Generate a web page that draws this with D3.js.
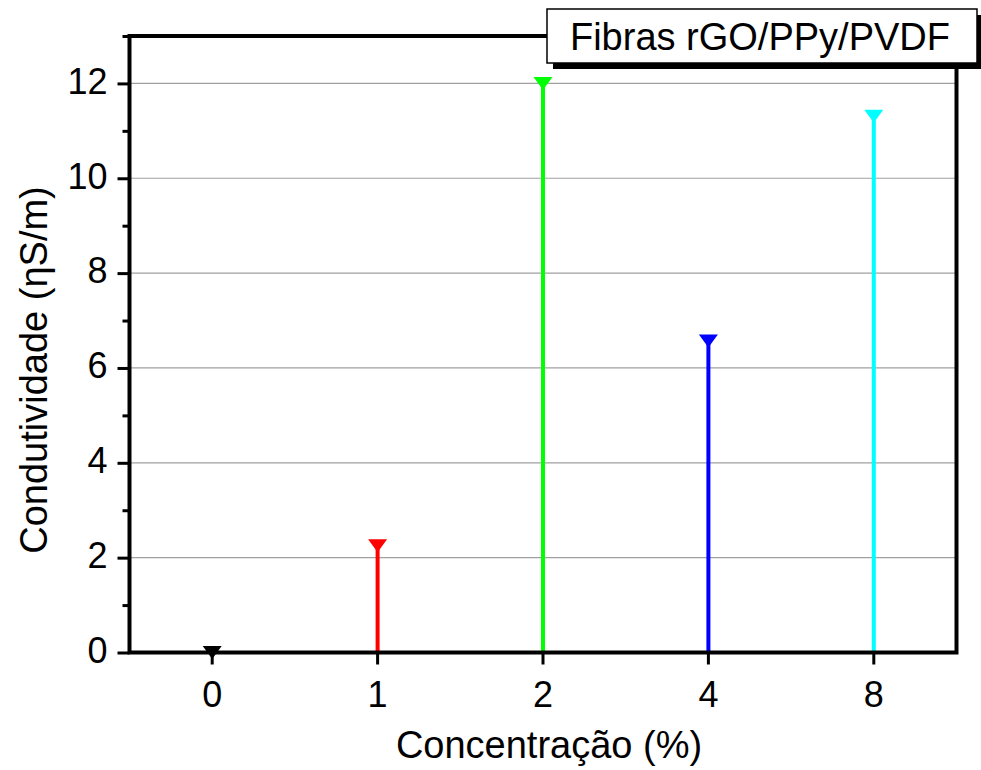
<!DOCTYPE html>
<html>
<head>
<meta charset="utf-8">
<script src="https://cdn.jsdelivr.net/npm/d3@7"></script>
<style>
  body { margin: 0; background: #fff; }
  svg { display: block; font-family: Arial, "Liberation Sans", sans-serif; }
</style>
</head>
<body>
<div id="chart"></div>
<script>
// data
var categories = ['0', '1', '2', '4', '8']
var values = [0, 2.25, 12.0, 6.57, 11.31]
var colors = ['#000000', '#ff0000', '#00ff00', '#0000ff', '#00ffff']
var yMajorTicks = [0, 2, 4, 6, 8, 10, 12]
var yMinorTicks = [1, 3, 5, 7, 9, 11, 13]
var legendLabel = 'Fibras rGO/PPy/PVDF'
var xTitle = 'Concentração (%)'
var yTitle = 'Condutividade (ηS/m)'

var W = 981, H = 770
var margin = { top: 36, right: 24.5, bottom: 117.5, left: 129.5 }
var width = W - margin.left - margin.right
var height = H - margin.top - margin.bottom

var svg = d3.select('#chart').append('svg')
  .attr('width', W)
  .attr('height', H)

svg.append('rect').attr('width', W).attr('height', H).attr('fill', '#fff')

var g = svg.append('g')
  .attr('transform', 'translate(' + margin.left + ',' + margin.top + ')')

var x = d3.scaleBand().domain(categories).range([0, width]).padding(0)
var y = d3.scaleLinear().domain([0, 13]).range([height, 0])

// gridlines
g.selectAll('line.grid')
  .data(yMajorTicks.filter(d => d > 0))
  .enter().append('line')
  .attr('class', 'grid')
  .attr('x1', 0).attr('x2', width)
  .attr('y1', d => y(d)).attr('y2', d => y(d))
  .attr('stroke', '#a0a0a0')
  .attr('stroke-width', 1.2)

// stems
g.selectAll('line.stem')
  .data(values)
  .enter().append('line')
  .attr('class', 'stem')
  .attr('x1', (d, i) => x(categories[i]) + x.bandwidth() / 2)
  .attr('x2', (d, i) => x(categories[i]) + x.bandwidth() / 2)
  .attr('y1', y(0))
  .attr('y2', d => y(d))
  .attr('stroke', (d, i) => colors[i])
  .attr('stroke-width', 4)

// down triangle markers
var tw = 19, th = 13
g.selectAll('path.marker')
  .data(values)
  .enter().append('path')
  .attr('class', 'marker')
  .attr('transform', (d, i) => 'translate(' + (x(categories[i]) + x.bandwidth() / 2) + ',' + y(d) + ')')
  .attr('d', 'M' + (-tw / 2) + ',' + (-th / 2) + 'L' + (tw / 2) + ',' + (-th / 2) + 'L0,' + (th / 2) + 'Z')
  .attr('fill', (d, i) => colors[i])

// frame
g.append('rect')
  .attr('width', width).attr('height', height)
  .attr('fill', 'none')
  .attr('stroke', '#000')
  .attr('stroke-width', 4)

// y axis
var yAxis = g.append('g')
  .call(d3.axisLeft(y).tickValues(yMajorTicks).tickSize(12).tickPadding(10).tickFormat(d3.format('d')))
yAxis.select('.domain').remove()
yAxis.selectAll('.tick line').attr('stroke', '#000').attr('stroke-width', 3)
yAxis.selectAll('.tick text')
  .attr('font-size', 36)
  .attr('font-family', 'Arial, "Liberation Sans", sans-serif')
  .attr('fill', '#000')
  .attr('dy', '0.27em')

var yMinor = g.append('g')
  .call(d3.axisLeft(y).tickValues(yMinorTicks).tickSize(7).tickFormat(''))
yMinor.select('.domain').remove()
yMinor.selectAll('.tick line').attr('stroke', '#000').attr('stroke-width', 3)

// x axis
var xAxis = g.append('g')
  .attr('transform', 'translate(0,' + height + ')')
  .call(d3.axisBottom(x).tickSize(12).tickPadding(9))
xAxis.select('.domain').remove()
xAxis.selectAll('.tick line').attr('stroke', '#000').attr('stroke-width', 3)
xAxis.selectAll('.tick text')
  .attr('font-size', 36)
  .attr('font-family', 'Arial, "Liberation Sans", sans-serif')
  .attr('fill', '#000')
  .attr('dy', '0.92em')

// axis titles
svg.append('text')
  .attr('x', 549)
  .attr('y', 758)
  .attr('text-anchor', 'middle')
  .attr('font-size', 38)
  .text(xTitle)

svg.append('text')
  .attr('transform', 'translate(47,370) rotate(-90)')
  .attr('text-anchor', 'middle')
  .attr('font-size', 38)
  .text(yTitle)

// legend box with shadow
var lx = 547, ly = 9, lw = 430, lh = 54
svg.append('rect')
  .attr('x', lx + 6).attr('y', ly + 6)
  .attr('width', lw).attr('height', lh)
  .attr('fill', '#000')
svg.append('rect')
  .attr('x', lx).attr('y', ly)
  .attr('width', lw).attr('height', lh)
  .attr('fill', '#fff')
  .attr('stroke', '#000')
  .attr('stroke-width', 1.5)
svg.append('text')
  .attr('x', lx + lw / 2 - 2)
  .attr('y', 50)
  .attr('text-anchor', 'middle')
  .attr('font-size', 38)
  .text(legendLabel)
</script>
</body>
</html>
